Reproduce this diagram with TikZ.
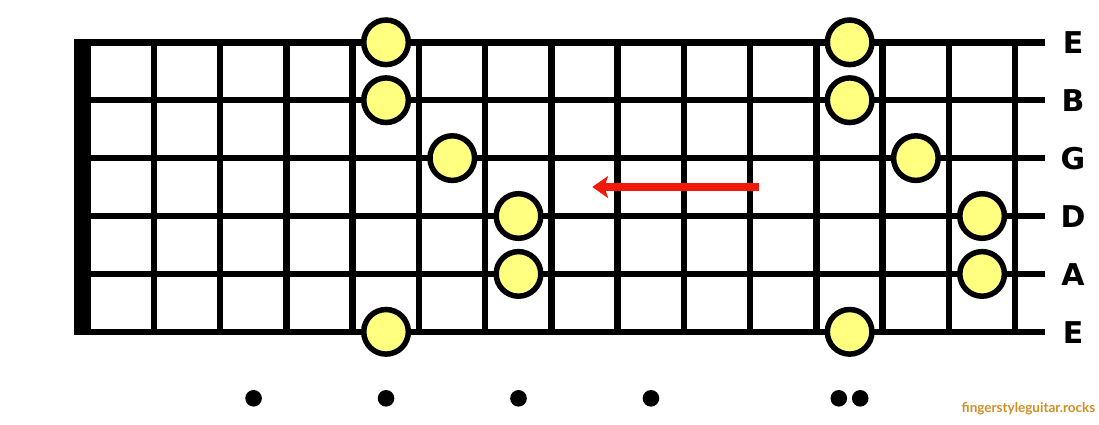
\documentclass[tikz,border=0pt]{standalone}
\usepackage{fontspec}
\usetikzlibrary{arrows.meta}
\newfontfamily\labfont{DejaVu Sans}
\newfontfamily\brandfont{Lato}
\definecolor{noteyellow}{HTML}{FFFF80}
\definecolor{arrowred}{HTML}{F0190A}
\definecolor{brandorange}{HTML}{D08F25}
\begin{document}
\begin{tikzpicture}[x=1pt,y=-1pt,
  stringline/.style={line width=6.5pt},
  fretline/.style={line width=6.5pt, line cap=rect},
  note/.style={circle, draw=black, fill=noteyellow, line width=5.5pt, minimum size=44.6pt, inner sep=0pt},
  marker/.style={circle, fill=black, minimum size=16.6pt, inner sep=0pt},
  strlabel/.style={font=\labfont\bfseries\fontsize{30}{30}\selectfont, inner sep=0pt},
  brand/.style={font=\brandfont\bfseries\fontsize{13.5}{13.5}\selectfont, text=brandorange, inner sep=0pt},
  arrowline/.style={draw=arrowred, line width=7.7pt, -{Stealth[length=16pt,width=22.5pt,inset=4pt,line width=0pt]}}
  ]
\useasboundingbox (0,0) rectangle (1099,424);
\fill[white] (0,0) rectangle (1099,424);
% strings
\foreach \s in {1,...,6}
  \draw[stringline] (88,{42.3+57.9*(\s-1)}) -- (1045,{42.3+57.9*(\s-1)});
% frets
\foreach \k in {1,...,14}
  \draw[fretline] ({154+66.23*(\k-1)},42.3) -- ({154+66.23*(\k-1)},331.8);
% nut
\fill[black] (74,39) rectangle (91,335);
% notes
\foreach \n/\f/\s in {1/5/1,2/5/2,3/6/3,4/7/4,5/7/5,6/5/6,7/12/1,8/12/2,9/13/3,10/14/4,11/14/5,12/12/6}
  \node[note] (note\n) at ({88+66.23*(\f-0.5)},{42.3+57.9*(\s-1)}) {};
% string labels
\foreach \s/\t in {1/E,2/B,3/G,4/D,5/A,6/E}
  \node[strlabel] (lab\s) at (1073,{42.6+57.9*(\s-1)}) {\t};
% position markers
\foreach \f in {3,5,7,9}
  \node[marker] (mark\f) at ({88+66.23*(\f-0.5)},398.3) {};
\node[marker] (mark12a) at (838.8,398.3) {};
\node[marker] (mark12b) at (860.2,398.3) {};
% arrow
\coordinate (arrtail) at (759,187);
\coordinate (arrtip) at (592.3,187);
\draw[arrowline] (arrtail) -- (arrtip);
% brand
\node[brand] (brand) at (1028.5,409) {fingerstyleguitar.rocks};
\end{tikzpicture}
\end{document}
